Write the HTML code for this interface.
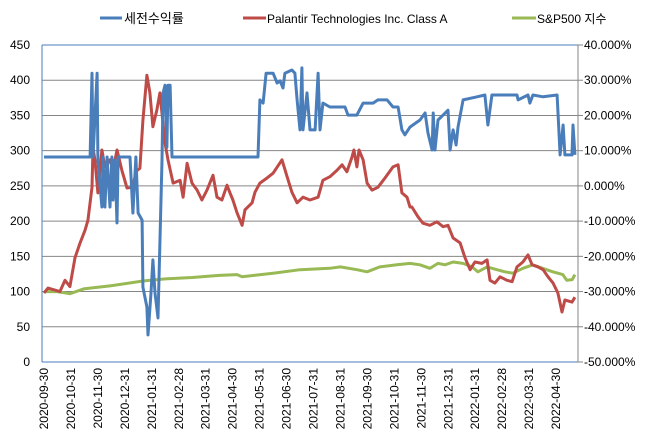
<!DOCTYPE html>
<html><head><meta charset="utf-8"><style>
html,body{margin:0;padding:0;background:#fff;}
svg{display:block;font-family:"Liberation Sans","Noto Sans CJK KR",sans-serif;}
</style></head><body>
<svg id="chart" width="649" height="441" viewBox="0 0 649 441" xmlns="http://www.w3.org/2000/svg">
<g id="grid"></g>
<g id="axes"></g>
<g id="series"></g>
<g id="legend">
  <g>
    <line x1="100" y1="18" x2="122" y2="18" stroke="#4a7ebb" stroke-width="3"/>
    <text x="124" y="23" font-size="13" fill="#000">세전수익률</text>
  </g>
  <g>
    <line x1="243" y1="18" x2="266" y2="18" stroke="#be4b48" stroke-width="3"/>
    <text x="267" y="23" font-size="12" fill="#000">Palantir Technologies Inc. Class A</text>
  </g>
  <g>
    <line x1="512" y1="18" x2="536" y2="18" stroke="#98b954" stroke-width="3"/>
    <text x="537" y="23" font-size="12" fill="#000">S&amp;P500 지수</text>
  </g>
</g>
</svg>
<script>
// x positions are month index from 2020-09-30
const xLabels = ["2020-09-30","2020-10-31","2020-11-30","2020-12-31","2021-01-31","2021-02-28","2021-03-31","2021-04-30","2021-05-31","2021-06-30","2021-07-31","2021-08-31","2021-09-30","2021-10-31","2021-11-30","2021-12-31","2022-01-31","2022-02-28","2022-03-31","2022-04-30"];
const leftTicks = [0,50,100,150,200,250,300,350,400,450];
const rightTicks = [-50,-40,-30,-20,-10,0,10,20,30,40];

const redT = [0,0.15,0.59,0.78,0.96,1.15,1.34,1.52,1.63,1.78,1.82,1.89,2.00,2.15,2.26,2.45,2.56,2.71,2.89,3.08,3.27,3.45,3.56,3.67,3.82,3.93,4.04,4.19,4.30,4.49,4.60,4.79,5.05,5.16,5.31,5.49,5.68,5.86,6.05,6.27,6.42,6.60,6.79,6.90,7.01,7.16,7.35,7.46,7.72,7.83,8.01,8.27,8.50,8.83,9.02,9.20,9.39,9.61,9.87,10.17,10.35,10.61,10.87,11.06,11.24,11.43,11.50,11.61,11.69,11.84,11.99,12.17,12.39,12.65,12.95,13.14,13.28,13.47,13.58,13.65,13.88,14.06,14.32,14.58,14.81,14.99,15.18,15.44,15.62,15.81,15.99,16.25,16.44,16.55,16.73,16.92,17.18,17.37,17.55,17.77,17.96,18.11,18.33,18.52,18.70,18.89,19.07,19.22,19.33,19.59,19.70];
const redV = [98,105,100,116,107,148,169,187,201,248,304,287,240,301,277,287,272,301,272,247,248,272,275,343,407,382,334,358,382,311,287,254,258,234,282,254,244,230,244,265,234,230,251,240,230,212,194,216,226,241,254,261,268,287,263,241,226,234,230,234,258,263,272,280,270,291,301,277,301,287,254,244,248,261,277,280,240,234,220,220,206,197,194,199,192,194,176,169,148,131,142,140,145,116,112,121,116,114,135,142,152,138,135,131,121,112,98,71,88,85,92];

const greenT = [0,0.5,0.96,1.5,2.45,3.67,4.5,5.5,6.5,7.16,7.35,8.5,9.5,10.6,11.0,11.61,11.99,12.46,13.1,13.58,13.95,14.32,14.62,14.88,15.18,15.55,15.88,16.1,16.44,16.81,17.1,17.4,17.77,18.14,18.5,18.88,19.25,19.4,19.6,19.70];
const greenV = [100,100,97,104,108,115,118,120,123,124,121,126,131,133,135,131,128,135,138,140,138,133,140,138,142,140,135,128,135,131,128,126,133,138,133,128,124,116,117,124];

const blueT = [0,1.71,1.78,1.82,1.97,2.00,2.15,2.19,2.26,2.34,2.45,2.52,2.56,2.63,2.71,2.75,3.19,3.30,3.41,3.49,3.64,3.67,3.82,3.86,3.97,4.04,4.12,4.23,4.38,4.42,4.49,4.56,4.60,4.68,4.75,7.94,8.01,8.13,8.24,8.50,8.65,8.76,8.87,8.94,9.20,9.31,9.39,9.50,9.57,9.61,9.76,9.87,10.06,10.17,10.24,10.35,10.61,10.87,11.17,11.28,11.61,11.84,12.21,12.39,12.73,12.95,13.14,13.28,13.39,13.58,13.69,13.95,14.14,14.25,14.40,14.44,14.51,14.62,14.81,14.99,15.07,15.18,15.29,15.36,15.55,16.07,16.36,16.47,16.62,17.55,17.59,17.96,18.03,18.14,18.52,19.04,19.15,19.26,19.33,19.59,19.63,19.70];
const blueV = [8.2,8.2,32.0,8.2,32.0,7.3,-6.0,8.2,-6.0,8.2,-6.0,8.2,-4.0,7.3,-10.5,8.2,8.2,-7.7,8.2,-7.7,-9.7,-28.7,-34.4,-42.3,-30.4,-21.0,-30.4,-37.5,7.3,26.4,28.6,11.0,28.6,28.6,8.2,8.2,24.4,23.5,32.0,32.0,29.2,29.8,27.8,32.0,32.9,32.0,24.4,15.9,33.5,15.9,26.4,15.9,15.9,32.0,15.9,23.5,22.4,22.4,22.4,20.1,20.1,23.5,23.5,24.4,24.4,22.4,22.4,15.9,14.5,16.7,17.3,18.7,20.7,15.0,10.2,20.7,10.2,18.7,20.1,21.5,10.2,15.9,11.6,16.7,24.4,25.3,25.8,17.3,25.8,25.8,24.4,25.8,23.5,25.8,25.3,25.8,8.8,17.3,8.8,8.8,17.3,8.8];

const X0 = 44, XSTEP = 26.95, PL = 42, PR = 578, PT = 45, PB = 362;
const xs = m => X0 + m * XSTEP;
const yL = v => PB - (v / 450) * (PB - PT);
const yR = p => PB - ((p + 50) / 90) * (PB - PT);
const NS = "http://www.w3.org/2000/svg";
function mk(tag, attrs, parent) {
  const e = document.createElementNS(NS, tag);
  for (const k in attrs) e.setAttribute(k, attrs[k]);
  parent.appendChild(e);
  return e;
}
const grid = document.getElementById('grid');
const axes = document.getElementById('axes');
const series = document.getElementById('series');

leftTicks.forEach(v => {
  if (v > 0) {
    const g = mk('line', {x1: PL, x2: PR, y1: yL(v), y2: yL(v), stroke: '#868686', 'stroke-width': 1}, grid);
    
    
  }
  const t = mk('text', {x: 30, y: yL(v) + 4, 'font-size': 12, 'text-anchor': 'end', fill: '#000'}, axes);
  t.textContent = v;
  
  
});
rightTicks.forEach(p => {
  const tk = mk('line', {x1: PR, x2: PR + 5, y1: yR(p), y2: yR(p), stroke: '#868686'}, axes);
  
  
  const t = mk('text', {x: 584, y: yR(p) + 4, 'font-size': 12, fill: '#000'}, axes);
  t.textContent = p.toFixed(3) + '%';
  
  
});
const la = mk('line', {x1: PL, x2: PL, y1: PT, y2: PB, stroke: '#4a7ebb', 'stroke-width': 1}, axes);


const ra = mk('line', {x1: PR, x2: PR, y1: PT, y2: PB, stroke: '#868686', 'stroke-width': 1}, axes);


const ba = mk('line', {x1: PL, x2: PR, y1: PB, y2: PB, stroke: '#4a7ebb', 'stroke-width': 1}, axes);


const ta = mk('line', {x1: PL, x2: PR, y1: PT, y2: PT, stroke: '#4a7ebb', 'stroke-width': 1}, axes);



xLabels.forEach((d, i) => {
  const x = xs(i);
  const t = mk('text', {x: 0, y: 0, 'font-size': 12, 'text-anchor': 'end', fill: '#000', transform: `translate(${x + 4},368) rotate(-90)`}, axes);
  t.textContent = d;
  
  
});

function drawLine(T, V, yf, color, name) {
  const pts = T.map((t, i) => xs(t).toFixed(1) + ',' + yf(V[i]).toFixed(1)).join(' ');
  const pl = mk('polyline', {points: pts, fill: 'none', stroke: color, 'stroke-width': 3, 'stroke-linejoin': 'round'}, series);
  
  
}
drawLine(greenT, greenV, yL, '#98b954', 'sp500-line');
drawLine(redT, redV, yL, '#be4b48', 'palantir-line');
drawLine(blueT, blueV, yR, '#4a7ebb', 'return-line');
</script>
</body></html>
